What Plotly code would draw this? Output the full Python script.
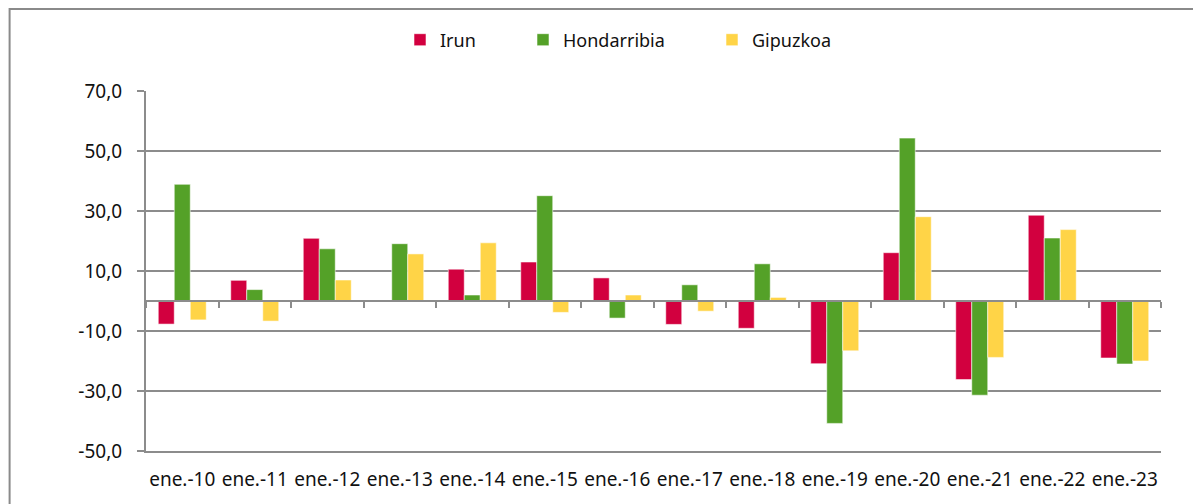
import plotly.graph_objects as go

categories = ["ene.-10", "ene.-11", "ene.-12", "ene.-13", "ene.-14", "ene.-15", "ene.-16",
              "ene.-17", "ene.-18", "ene.-19", "ene.-20", "ene.-21", "ene.-22", "ene.-23"]
irun = [-7.7, 6.9, 20.9, 0.0, 10.6, 13.0, 7.7, -7.8, -9.1, -20.9, 16.1, -26.2, 28.6, -19.0]
hondarribia = [38.9, 3.8, 17.4, 19.1, 2.0, 35.1, -5.7, 5.4, 12.4, -40.8, 54.3, -31.4, 21.0, -21.0]
gipuzkoa = [-6.3, -6.7, 7.0, 15.7, 19.4, -3.8, 2.0, -3.4, 1.2, -16.6, 28.1, -18.8, 23.8, -20.0]
y_ticks = [-50, -30, -10, 10, 30, 50, 70]
y_tick_labels = [f"{v:.1f}".replace(".", ",") for v in y_ticks]

series = [("Irun", irun, "#D2003F", "legend"),
          ("Hondarribia", hondarribia, "#54A128", "legend2"),
          ("Gipuzkoa", gipuzkoa, "#FFD447", "legend3")]

FONT = "Noto Sans"
FS = 18
FS_TICK = 19
TXT = "#111111"
GRID = "#8c8c8c"
OFF = 8  # page body offset of the figure in the browser
W, H = 1201 - OFF, 504 - OFF
L, R, T, B = 146 - OFF, 40, 91 - OFF, 53
PW, PH = W - L - R, H - T - B

fig = go.Figure()
for name, vals, color, lg in series:
    fig.add_trace(go.Bar(
        x=categories, y=vals, name=name, legend=lg,
        marker=dict(color=color, line=dict(color="rgba(255,255,255,0.55)", width=1)),
    ))

# helper trace for the zero-line axis with boundary ticks
fig.add_trace(go.Scatter(x=categories, y=[None] * len(categories), xaxis="x2",
                         mode="lines", showlegend=False, hoverinfo="skip"))

# page-pixel -> paper coordinate helpers
def px_x(p):
    return (p - OFF - L) / PW

def px_y(p):
    return (H - B - (p - OFF)) / PH

legend_common = dict(orientation="h", yanchor="middle", xanchor="left", y=px_y(40),
                     font=dict(family=FONT, size=FS, color=TXT),
                     bgcolor="rgba(0,0,0,0)", borderwidth=0)

fig.update_layout(
    width=W, height=H,
    margin=dict(l=L, r=R, t=T, b=B, pad=0, autoexpand=False),
    paper_bgcolor="white", plot_bgcolor="white",
    barmode="group", bargap=0.338, bargroupgap=0,
    font=dict(family=FONT, size=FS, color=TXT),
    legend=dict(x=px_x(400), **legend_common),
    legend2=dict(x=px_x(523), **legend_common),
    legend3=dict(x=px_x(712), **legend_common),
    xaxis=dict(type="category", showgrid=False, showline=True, linecolor=GRID, linewidth=2,
               ticks="", ticklabelstandoff=10, tickfont=dict(family=FONT, size=FS_TICK, color=TXT),
               automargin=False),
    xaxis2=dict(type="category", overlaying="x", matches="x", anchor="free",
                position=50 / 120, showline=True, linecolor=GRID, linewidth=2,
                ticks="outside", tickson="boundaries", ticklen=6, tickwidth=1.5, tickcolor=GRID,
                showticklabels=False, showgrid=False, automargin=False),
    yaxis=dict(range=[-50, 70], tickvals=y_ticks, ticktext=y_tick_labels,
               showgrid=True, gridcolor=GRID, gridwidth=1.5, zeroline=False,
               showline=True, linecolor=GRID, linewidth=2,
               ticks="outside", ticklen=7, tickwidth=1.5, tickcolor=GRID,
               ticklabelstandoff=11, tickfont=dict(family=FONT, size=FS_TICK, color=TXT),
               automargin=False),
    shapes=[dict(type="rect", xref="paper", yref="paper",
                 x0=px_x(9.6), x1=px_x(1215), y0=px_y(515), y1=px_y(9),
                 line=dict(color="#8a8a8a", width=2), fillcolor="rgba(0,0,0,0)", layer="below")],
)

fig.write_html("out.html")
